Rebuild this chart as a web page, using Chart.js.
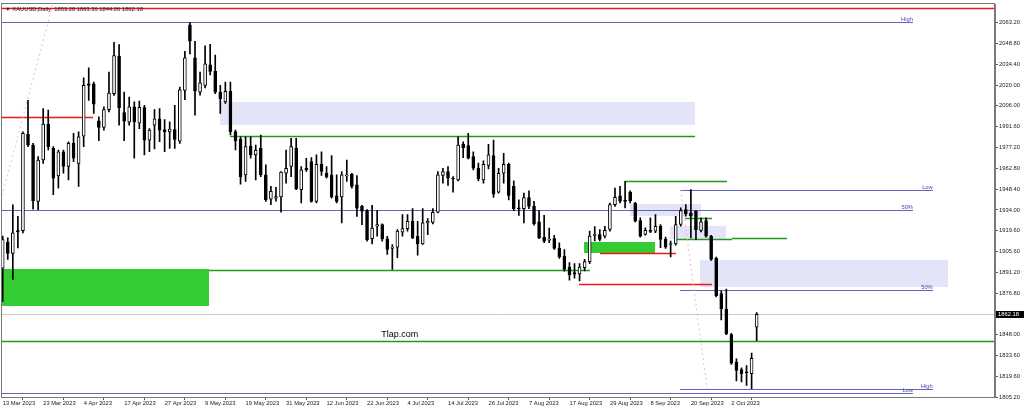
<!DOCTYPE html>
<html>
<head>
<meta charset="utf-8">
<title>XAUUSD Daily</title>
<script src="https://cdn.jsdelivr.net/npm/chart.js@4.4.0/dist/chart.umd.min.js"></script>
<style>
	html,body{margin:0;padding:0;background:#fff;}
	#wrap{width:1024px;height:411px;}
</style>
</head>
<body>
<div id="wrap"><canvas id="ctx" width="1024" height="411"></canvas></div>
<script>
// daily candles, 13 Mar 2023 .. 9 Oct 2023 (index 0 = 13 Mar)
var openP = [1894,1911.8,1904,1919.8,1919.8,1986,1978.7,1939.9,1968.4,1992.9,
	1976.4,1957.5,1974.1,1963.9,1979.8,1966.1,1984.9,2020.9,2020.9,1995.4,
	1990.8,2003.1,2014.1,2039.9,2001.1,1994.5,2005,1993.8,2004.5,1982.1,
	1992.4,1996.7,1989.4,1987.8,1989.4,1981.4,2016.4,2061.5,2038.7,2015.2,
	2019.8,2034,2029.4,2015.2,2008.4,2015.9,1987.9,1982.8,1958.2,1978,
	1971.9,1976.4,1958.2,1941.5,1942.2,1942.9,1959.3,1963.9,1976.4,1947.9,
	1962.7,1967.3,1939.9,1965.5,1959.3,1958.2,1943.8,1942.9,1957.5,1958.6,
	1951.3,1936.5,1933.5,1914.3,1922.8,1923.9,1914.1,1907.6,1908.4,1918.7,
	1921.2,1926.2,1915.9,1910.7,1925.1,1925.5,1932.4,1957.7,1960.5,1955.7,
	1954.7,1979.2,1978.3,1970.7,1962.7,1954.7,1964.6,1971.4,1946.3,1959.3,
	1965.5,1950.2,1935.2,1934.9,1942.6,1936.5,1925.8,1915.2,1913.2,1914.3,
	1907.5,1902.2,1894.7,1890.8,1890,1894.3,1898.4,1916.5,1917.1,1916,
	1920.6,1937.7,1943.8,1940.6,1946.3,1938.8,1926.7,1917.1,1919.7,1919.4,
	1922.8,1913.7,1910.2,1910.7,1924,1934.2,1932,1933.1,1919.9,1926.7,
	1916,1900.7,1876.5,1865.8,1848.2,1829.2,1824,1822.3,1821.2,1853.28];
var highP = [1916,1914.8,1937.6,1929.6,1987.8,2009.5,1979.8,1970.7,2003.8,2002.7,
	1977.6,1975.3,1975.3,1981,1986.7,1987.8,2025,2031.9,2022.1,1998.1,
	2005,2028.9,2049.5,2047.9,2015.2,2011.8,2008.4,2009,2006.1,1990.1,
	2003.1,2003.8,1996.3,1994.7,2006.1,2018.7,2043.3,2063,2050.2,2029,
	2047,2048,2040.6,2019.8,2022.1,2022.1,1989,1984.4,1984.4,1984.4,
	1978.7,1985.6,1965,1950.2,1949.5,1960.5,1975.3,1983.3,1983.3,1963.9,
	1969.6,1970,1971.9,1974.1,1963.9,1971.4,1958.2,1960.5,1968.4,1959.3,
	1957.7,1937.2,1934.2,1937.2,1933.5,1924.4,1915.9,1910.2,1920.5,1930.8,
	1930.8,1934.9,1926.2,1934.9,1928,1934.9,1960.5,1962.7,1963.9,1957,
	1984.4,1981,1986.7,1974.1,1966.2,1967.8,1979.2,1982.1,1962.7,1973,
	1966.2,1954,1941,1945.6,1947.2,1939.9,1933.5,1930.3,1921.6,1916.6,
	1911.4,1906.8,1897.7,1897,1897,1900,1919.4,1922.5,1920.5,1922.8,
	1938.8,1949.1,1950.2,1953.7,1947.2,1939.3,1928.5,1921.7,1928.5,1930.8,
	1924,1915.3,1912.6,1929.7,1935.4,1937.7,1948,1933.6,1928.5,1928.5,
	1916.5,1901.6,1878.3,1879.5,1849.1,1831.5,1825.3,1826.9,1835.4,1863.36];
var lowP = [1871,1899.9,1886.2,1907.9,1918.2,1977.6,1934.6,1934.2,1966.1,1975.3,
	1944.5,1949,1959.3,1954.7,1967.3,1950.2,1977.6,2009.5,2000.4,1981.7,
	1989,2001.5,2012.9,1992.4,1981.7,1992.4,1969.6,1990,1971.9,1974.1,
	1976,1981,1974.1,1976.4,1976.4,1979.8,2010,2041.5,1999.3,2013,
	2018,2027,2014.1,2000.4,2007.3,1985.6,1975.3,1951.8,1953.6,1969.6,
	1954.7,1957,1939.9,1937.6,1940,1932.4,1952.5,1957,1947.9,1938.8,
	1960.5,1939.4,1938.8,1957.7,1955.9,1942.2,1938.8,1925.1,1953.6,1949,
	1929.6,1923.9,1912.5,1910.7,1915.9,1912.5,1903.4,1893.1,1901.1,1915.9,
	1919.4,1914.3,1902.9,1910.2,1917,1924.4,1931.9,1952.5,1950.9,1946.3,
	1954,1970,1969.1,1961.6,1954,1952.5,1962.3,1942.6,1945.6,1952.5,
	1941,1933.5,1930.3,1925.1,1934.9,1923.5,1914.3,1911.4,1911.4,1906.8,
	1900.6,1891.9,1885.6,1887,1885.2,1892,1897,1912.6,1912.6,1914.8,
	1919.4,1936.5,1938.8,1935.4,1938.8,1925.8,1915.3,1916.7,1918.3,1918.3,
	1908,1907.5,1901.6,1909.8,1922.8,1929.7,1914.8,1913.7,1918.9,1915.3,
	1899.3,1874.2,1858.2,1848.2,1827.6,1816.2,1815.5,1813.2,1811,1844.06];
var closeP = [1913.6,1904,1918.2,1918.9,1986.7,1978.7,1940.3,1968.4,1993.1,1977.6,
	1955.9,1974.1,1963.9,1979.8,1969.6,1984.4,2019.8,2019.8,2006.8,1990.8,
	2003.1,2014.5,2040.3,2004.5,1995.1,2005,1994.7,2004.6,1982.1,1989,
	1996.7,1989,1987.8,1989.7,1982.6,2016.8,2038.7,2050.2,2015.9,2021.5,
	2034.6,2029.4,2015.2,2010.7,2015.7,1987.9,1981.5,1957,1977.6,1971.9,
	1975.3,1958.2,1941.1,1946.8,1943.3,1960,1962.7,1977.6,1948.6,1961.6,
	1961.6,1939.9,1965.5,1960.5,1957,1942.9,1939.9,1958.2,1957.9,1950.2,
	1935.3,1933.1,1913.6,1921.6,1923.9,1914.1,1906.8,1908.5,1919.4,1921.2,
	1926.2,1914.8,1910.7,1925.1,1926.2,1932.4,1958.2,1960.5,1955.9,1955.3,
	1978.7,1976.9,1969.6,1962.7,1955.4,1965.5,1971.9,1944.9,1959.3,1965.5,
	1944,1934.9,1934.7,1942.6,1936.5,1924.4,1914.8,1912.5,1913.8,1907.5,
	1901.6,1893.1,1889.2,1889.7,1894.7,1898.4,1916,1917.3,1913.7,1919.9,
	1937.7,1942.7,1940,1939.9,1940.4,1926.3,1916,1919.9,1919.3,1922.8,
	1913.7,1908.4,1910.9,1924,1933.6,1931.3,1929.7,1920.5,1925.8,1916,
	1900,1874.9,1865.8,1848.6,1828.5,1823.5,1821.2,1821.8,1831.9,1862.18];

// time axis labels, one every 8 bars
var tickLabels = ['13 Mar 2023','23 Mar 2023','4 Apr 2023','17 Apr 2023','27 Apr 2023',
	'9 May 2023','19 May 2023','31 May 2023','12 Jun 2023','22 Jun 2023','4 Jul 2023',
	'14 Jul 2023','26 Jul 2023','7 Aug 2023','17 Aug 2023','29 Aug 2023','8 Sep 2023',
	'20 Sep 2023','2 Oct 2023'];
var tickEvery = 8;
var priceTicks = [2063.20,2048.80,2034.40,2020.00,2006.00,1991.60,1977.20,1962.80,1948.40,
	1934.00,1919.60,1905.60,1891.20,1876.80,1848.00,1833.60,1819.60,1805.20];

var xMin = -0.14, xMax = 196.1;
var yMin = 1805.2, yMax = 2075.5;

// drawn levels: [price, from bar, to bar]
var redLevels = [[2073.1,xMin,xMax],[1998.1,xMin,17.8],[1904.5,118.0,133.1],[1883.3,113.9,140.2]];
var greenLevels = [[1984.8,44.9,136.8],[1892.5,40.8,116.1],[1953.6,123.0,143.1],[1928.5,134.8,140.2],
	[1914.1,133.3,144.1],[1914.8,144.1,155.0],[1844.0,xMin,xMax]];
var blueLevels = [[2063.2,xMin,179.9],[1934.2,xMin,179.9],[1947.9,133.9,183.8],[1878.9,133.9,183.8],
	[1810.9,133.9,183.8],[1807.7,xMin,179.9]];
// zones: [low, high, from bar, to bar]
var lavenderZones = [[1992.8,2008.4,42.9,136.8],[1929.7,1937.8,124.0,138.0],[1913.8,1922.9,131.9,142.9],[1881.2,1899.4,137.8,186.8]];
var greenZones = [[1867.9,1893.1,xMin,40.8],[1904.6,1912.2,114.9,128.9]];
// dotted trend lines: [bar1, price1, bar2, price2]
var trendLines = [[-0.14,1943.8,9.9,2075.5],[134.0,1948.0,139.2,1810.5]];
// level tags: [text, price, bar at right end]
var levelTags = [['High',2063.2,179.9],['50%',1934.2,179.9],['Low',1947.9,183.8],['50%',1878.9,183.8],
	['High',1810.9,183.8],['Low',1807.7,179.9]];
var watermark = ['Tlap.com',1844.0,82.1];

var n = closeP.length;
var last = n-1;
var bodies = [], wicks = [], bodyColors = [];
for(var i=0;i<n;i++){
	bodies.push({x:i, y:[openP[i], closeP[i]]});
	wicks.push({x:i, y:[lowP[i], highP[i]]});
	bodyColors.push(closeP[i]>=openP[i] ? '#ffffff' : '#000000');
}

var datasets = [
	{type:'bar', data:bodies, backgroundColor:bodyColors, borderColor:'#000', borderWidth:1,
		borderSkipped:false, barThickness:3, minBarLength:1, grouped:false, order:0},
	{type:'bar', data:wicks, backgroundColor:'#000', borderWidth:0,
		barThickness:1, grouped:false, order:1}
];
trendLines.forEach(function(t){
	datasets.push({type:'line', data:[{x:t[0],y:t[1]},{x:t[2],y:t[3]}],
		borderColor:'#f5b5c5', borderWidth:1, borderDash:[2,3], pointRadius:0, order:2});
});

var smallFont = '5.8px "Liberation Sans", Arial, sans-serif';

var overlay = {
	id:'overlay',
	beforeDatasetsDraw:function(chart){
		var c = chart.ctx, xs = chart.scales.x, ys = chart.scales.y, a = chart.chartArea;
		c.save();
		c.beginPath(); c.rect(a.left,a.top,a.right-a.left,a.bottom-a.top); c.clip();
		function zone(z,color){
			var x1 = Math.round(xs.getPixelForValue(z[2])), x2 = Math.round(xs.getPixelForValue(z[3]));
			var y1 = Math.round(ys.getPixelForValue(z[1])), y2 = Math.round(ys.getPixelForValue(z[0]));
			c.fillStyle = color;
			c.fillRect(x1,y1,x2-x1,y2-y1);
		}
		lavenderZones.forEach(function(z){zone(z,'#e4e4f8');});
		greenZones.forEach(function(z){zone(z,'#33cc33');});
		// horizontal levels
		function level(l,color,w){
			var y = Math.round(ys.getPixelForValue(l[0]))+0.5;
			c.strokeStyle = color; c.lineWidth = w;
			c.beginPath();
			c.moveTo(Math.round(xs.getPixelForValue(l[1])), y);
			c.lineTo(Math.round(xs.getPixelForValue(l[2])), y);
			c.stroke();
		}
		level([closeP[last],xMin,xMax],'#c8c8c8',1);
		redLevels.forEach(function(l){level(l,'#f01818',1.5);});
		greenLevels.forEach(function(l){level(l,'#1f9a1f',1.5);});
		blueLevels.forEach(function(l){level(l,'#6464c0',1.2);});
		c.restore();
	},
	afterDraw:function(chart){
		var c = chart.ctx, xs = chart.scales.x, ys = chart.scales.y, a = chart.chartArea;
		c.save();
		// plot frame
		c.strokeStyle = '#7a7a7a'; c.lineWidth = 1;
		c.strokeRect(Math.round(a.left)-0.5, Math.round(a.top)-0.5, Math.round(a.right-a.left), Math.round(a.bottom-a.top)+1);
		// level tags
		c.font = smallFont; c.fillStyle = '#4a4aa8';
		c.textAlign = 'right'; c.textBaseline = 'bottom';
		levelTags.forEach(function(t){
			c.fillText(t[0], xs.getPixelForValue(t[2]), Math.round(ys.getPixelForValue(t[1])));
		});
		// watermark text
		c.font = '9px "Liberation Sans", Arial, sans-serif'; c.fillStyle = '#000';
		c.fillText(watermark[0], xs.getPixelForValue(watermark[2]), ys.getPixelForValue(watermark[1])-2);
		// header
		c.font = smallFont; c.textAlign = 'left'; c.textBaseline = 'middle'; c.fillStyle = '#222';
		c.fillText('\u25BC XAUUSD,Daily  ' + openP[last].toFixed(2)+' '+highP[last].toFixed(2)+' '+
			lowP[last].toFixed(2)+' '+closeP[last].toFixed(2), a.left+3, a.top+5);
		// last price box
		var py = Math.round(ys.getPixelForValue(closeP[last]));
		c.fillStyle = '#000';
		c.fillRect(a.right+1, py-3, chart.width-a.right-1, 7);
		c.fillStyle = '#fff';
		c.fillText(closeP[last].toFixed(2), a.right+3, py+0.5);
		c.restore();
	}
};

new Chart(document.getElementById('ctx'), {
	type:'bar',
	data:{datasets:datasets},
	plugins:[overlay],
	options:{
		responsive:false,
		animation:false,
		devicePixelRatio:1,
		layout:{padding:{left:2,top:2,right:0,bottom:0}},
		plugins:{legend:{display:false}, tooltip:{enabled:false}},
		scales:{
			x:{
				type:'linear', position:'bottom', min:xMin, max:xMax, offset:false,
				afterBuildTicks:function(s){
					s.ticks = tickLabels.map(function(t,k){return {value:k*tickEvery};});
				},
				afterFit:function(s){ s.height = 14; },
				grid:{drawOnChartArea:false, drawTicks:true, tickLength:3, color:'#555'},
				border:{display:true, color:'#7a7a7a'},
				ticks:{
					autoSkip:false, maxRotation:0, minRotation:0, align:'start', padding:0,
					color:'#222', font:{family:'"Liberation Sans", Arial, sans-serif', size:5.8},
					callback:function(v){ return tickLabels[Math.round(v/tickEvery)]; }
				}
			},
			y:{
				type:'linear', position:'right', min:yMin, max:yMax,
				afterBuildTicks:function(s){
					s.ticks = priceTicks.map(function(v){return {value:v};});
				},
				afterFit:function(s){ s.width = 29; },
				grid:{drawOnChartArea:false, drawTicks:true, tickLength:3, color:'#555'},
				border:{display:true, color:'#7a7a7a'},
				ticks:{
					padding:1, color:'#222',
					font:{family:'"Liberation Sans", Arial, sans-serif', size:5.8},
					callback:function(v){ return Number(v).toFixed(2); }
				}
			}
		}
	}
});
</script>
</body>
</html>
